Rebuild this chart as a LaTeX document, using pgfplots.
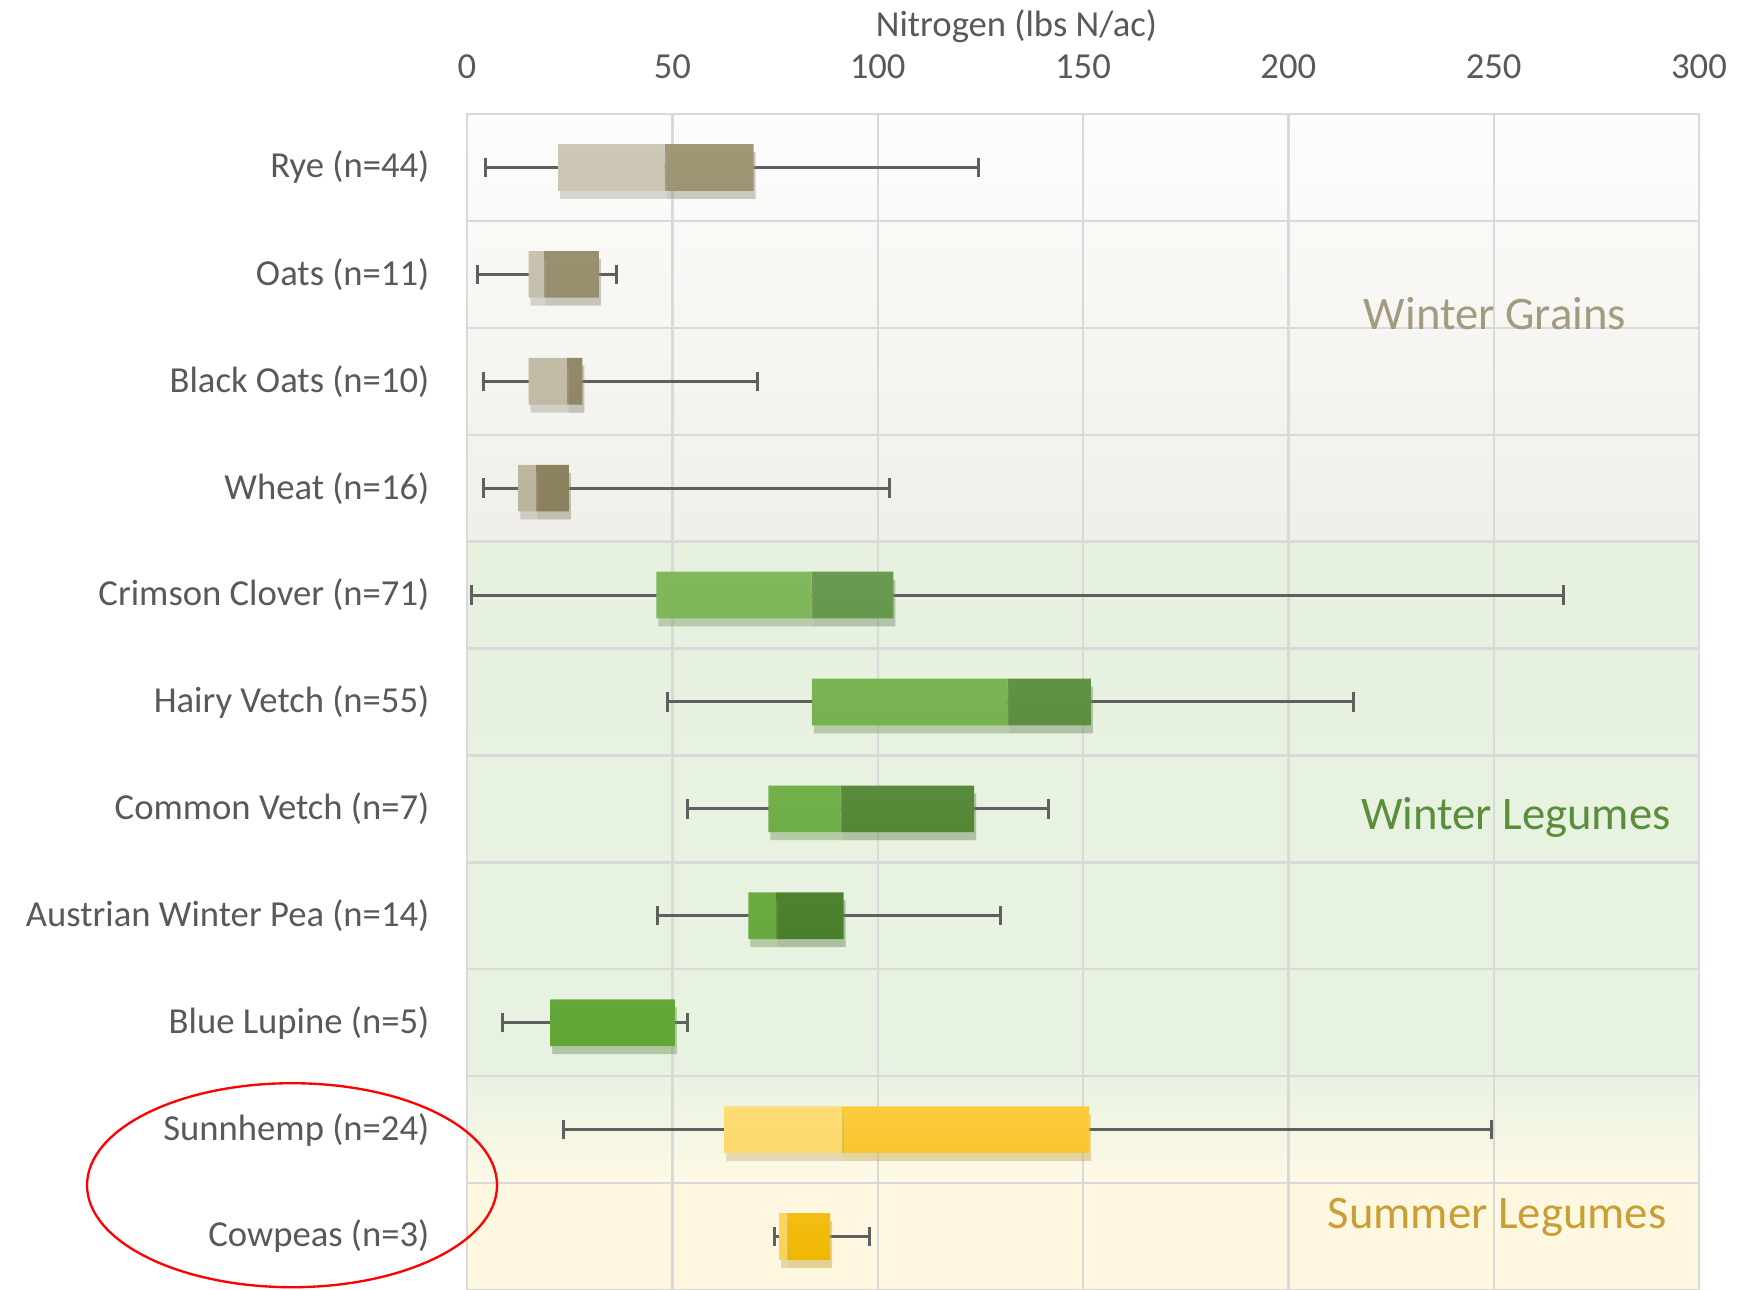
\documentclass[border=0pt]{standalone}
\usepackage{fontspec}
\setmainfont{Carlito}
\usepackage{pgfplots}
\usepackage{pgfplotstable}
\pgfplotsset{compat=1.18}
\usetikzlibrary{shadows}

\definecolor{gridc}{HTML}{D9D9D9}
\definecolor{labc}{HTML}{595959}
\definecolor{whc}{HTML}{5F5F5F}
\definecolor{gLt}{HTML}{CDC8B5}\definecolor{gLb}{HTML}{BBB49C}
\definecolor{gDt}{HTML}{A09777}\definecolor{gDb}{HTML}{8A805E}
\definecolor{wLt}{HTML}{80B95C}\definecolor{wLb}{HTML}{60A535}
\definecolor{wDt}{HTML}{6A9A50}\definecolor{wDb}{HTML}{4A7F2A}
\definecolor{sLt}{HTML}{FEDC74}\definecolor{sLb}{HTML}{FBD158}
\definecolor{sDt}{HTML}{FECB40}\definecolor{sDb}{HTML}{EFB800}
\definecolor{txG}{HTML}{A39A80}
\definecolor{txW}{HTML}{5A8E3A}
\definecolor{txS}{HTML}{C99F35}

% y: row position (Rye top = 10); q1; a = median - q1; b = q3 - median;
% g: group (1 winter grains, 2 winter legumes, 3 summer legumes);
% c: middle of the whisker range; h: half of the whisker range
\pgfplotstableread{
y  q1    a     b     g  c       h
10 22.2  25.9  21.7  1  64.6    60.0
9  15.0  3.7   13.4  1  19.5    17.0
8  15.0  9.3   3.8   1  37.35   33.45
7  12.5  4.3   8.0   1  53.35   49.45
6  46.1  37.8  19.9  2  134.1   132.9
5  84.0  47.6  20.3  2  132.35  83.45
4  73.4  17.6  32.5  2  97.65   44.05
3  68.5  6.7   16.5  2  88.05   41.75
2  20.3  30.3  0.0   2  31.1    22.5
1  62.7  28.6  60.1  3  136.55  112.95
0  76.0  2.0   10.4  3  86.5    11.6
}\data

\begin{document}
\begin{tikzpicture}
\pgfplotsset{
  common/.style={
    scale only axis, width=369.6pt, height=352.8pt,
    xmin=0, xmax=300, ymin=-0.5, ymax=10.5,
  }
}
\begin{axis}[
  common,
  set layers,
  clip=false,
  xtick={0,50,...,300},
  xticklabel pos=upper,
  ytick={0,...,10},
  yticklabels={{Cowpeas (n=3)},{Sunnhemp (n=24)},{Blue Lupine (n=5)},{Austrian Winter Pea (n=14)},{Common Vetch (n=7)},{Hairy Vetch (n=55)},{Crimson Clover (n=71)},{Wheat (n=16)},{Black Oats (n=10)},{Oats (n=11)},{Rye (n=44)}},
  minor ytick={0.5,1.5,...,9.5},
  xmajorgrids, yminorgrids,
  major tick length=0pt, minor tick length=0pt,
  grid style={draw=gridc, line width=0.7pt},
  minor grid style={draw=gridc, line width=0.7pt},
  axis line style={draw=gridc, line width=0.7pt},
  tick label style={font=\fontsize{11}{13}\selectfont, text=labc},
  /pgf/number format/assume math mode=true,
  xticklabel style={anchor=center, yshift=14.3pt},
  yticklabel style={anchor=east, inner sep=0pt, xshift=-11.1pt},
  xlabel={Nitrogen (lbs N/ac)},
  xlabel style={at={(rel axis cs:0.446,1)}, anchor=center, yshift=26.3pt, font=\fontsize{11}{13}\selectfont, text=labc},
]
\begin{pgfonlayer}{axis background}
  \fill[top color=white!96!gLt, bottom color=white!70!gLt] (axis cs:0,6.5) rectangle (axis cs:300,10.5);
  \fill[top color=white!80!wLt, bottom color=white!82!wLt] (axis cs:0,1.5) rectangle (axis cs:300,6.5);
  \fill[top color=white!82!wLt, bottom color=white!82!sLt] (axis cs:0,0.5) rectangle (axis cs:300,1.5);
  \fill[fill=white!78!sLt] (axis cs:0,-0.5) rectangle (axis cs:300,0.5);
\end{pgfonlayer}

\addplot[draw=none, mark=none, forget plot,
  error bars/.cd, x dir=both, x explicit,
  error bar style={draw=whc, line width=0.9pt},
  error mark options={draw=whc, line width=0.9pt, mark size=2.9pt, rotate=90}]
  table[x=c, y=y, x error=h] {\data};

\node[font=\fontsize{14}{16}\selectfont, text=txG] at (axis cs:250.3,8.63) {Winter Grains};
\node[font=\fontsize{14}{16}\selectfont, text=txW] at (axis cs:255.4,3.92) {Winter Legumes};
\node[font=\fontsize{14}{16}\selectfont, text=txS] at (axis cs:250.8,0.18) {Summer Legumes};

\draw[red, line width=0.7pt] (axis cs:-42.6,0.48) ellipse [x radius=61.5pt, y radius=30.6pt];
\end{axis}

\begin{axis}[
  common,
  axis lines=none,
  xbar stacked,
  bar width=14pt,
  shd/.style={drop shadow={shadow xshift=0.6pt, shadow yshift=-2.4pt, opacity=0.25}},
]
\addplot[draw=none, fill=none] table[x=q1, y=y] {\data};
\addplot[draw=none, shd, top color=gLt, bottom color=gLb] table[x expr={\thisrow{a}*(\thisrow{g}==1)}, y=y] {\data};
\addplot[draw=none, shd, top color=wLt, bottom color=wLb] table[x expr={\thisrow{a}*(\thisrow{g}==2)}, y=y] {\data};
\addplot[draw=none, shd, top color=sLt, bottom color=sLb] table[x expr={\thisrow{a}*(\thisrow{g}==3)}, y=y] {\data};
\addplot[draw=none, shd, top color=gDt, bottom color=gDb] table[x expr={\thisrow{b}*(\thisrow{g}==1)}, y=y] {\data};
\addplot[draw=none, shd, top color=wDt, bottom color=wDb] table[x expr={\thisrow{b}*(\thisrow{g}==2)}, y=y] {\data};
\addplot[draw=none, shd, top color=sDt, bottom color=sDb] table[x expr={\thisrow{b}*(\thisrow{g}==3)}, y=y] {\data};
\end{axis}

\pgfresetboundingbox
\path[use as bounding box] (-140.1pt,0pt) rectangle (381.6pt,387pt);
\end{tikzpicture}
\end{document}
